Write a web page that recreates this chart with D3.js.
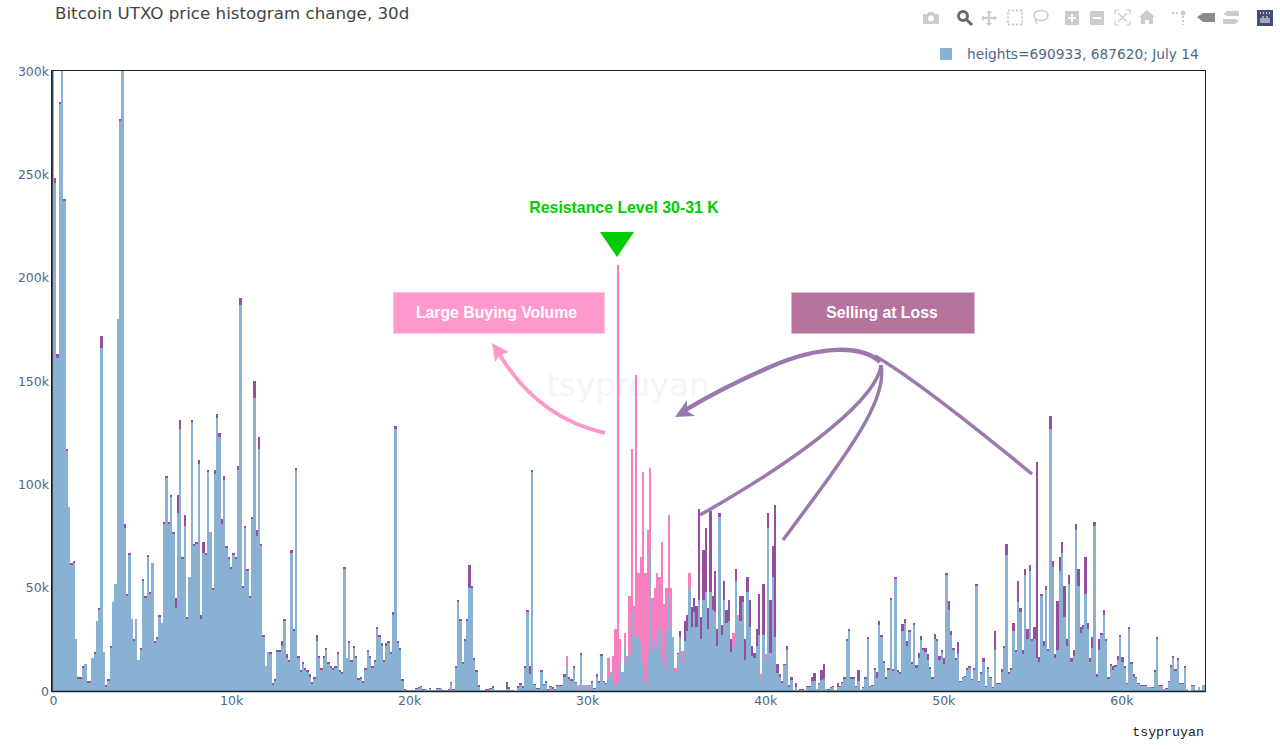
<!DOCTYPE html>
<html>
<head>
<meta charset="utf-8">
<title>Bitcoin UTXO price histogram change, 30d</title>
<script src="https://cdn.jsdelivr.net/npm/d3@7"></script>
<style>
  html, body { margin: 0; padding: 0; background: #fff; overflow: hidden; }
  text { font-family: "DejaVu Sans", sans-serif; }
</style>
</head>
<body>
<svg id="chart" width="1280" height="749"></svg>
<script>
// Height of every price bin, in thousands of BTC (one row = 10 bins)
const barTop = [
  320,248,163,285,320,238,117,89,62,63,
  25,7,7,12,13,5,5,16,19,34,
  40,172,19,3,6,22,43,52,180,277,
  320,81,47,67,35,25,35,15,21,54,
  46,66,48,62,24,26,37,33,82,104,
  82,95,77,45,95,131,65,85,36,55,
  131,71,72,112,37,72,67,107,77,50,
  107,134,125,83,104,70,65,60,67,65,
  109,190,51,80,59,46,84,150,78,123,
  71,27,12,19,19,4,6,20,20,24,
  35,18,15,68,30,108,17,10,14,11,
  10,8,4.5,7,27,17,11,17,21,14,
  12,11,12,19,10,9,60,16,24,15,
  22,17,6.5,7,5,11,20,17,12,15,
  31,27,23,15,23,24,19,38,128,24,
  21,6,1,.5,.3,.3,.6,1.3,2,2.4,
  1,1,.4,1.3,.4,.4,1.3,1.3,1,.6,
  .6,.8,4.5,1,12,44,35,14,25,35,
  61,51,16,10,3,.3,.3,1,1,1.3,
  2.4,.3,.3,.3,.3,.5,4.5,1.7,.3,.3,
  .1,2.4,4,2.4,12,39,12,107,3.4,1.3,
  1.3,10,3.4,5,1,2.4,1.7,.8,3,3,
  3,8,17,7,6,12,4.5,3,18.5,3,
  3,3,3,5,1.3,8,5,18,5,4,
  16,9,17,30,206,25,9,28,17,46,
  117,41,153,57,65,106,57,78,108,45,
  50,57,55,72,42,50,85,50,26,11,
  18.5,29,19.5,34,37,57,40.5,45,41,88,
  36,68,79,40,87,46,58,30,86,32,
  53,39,44,25,28,59,37,46,46,25,
  55,44,22,18.5,30,47,8,52,18,86,
  44,70,90,13,8,5,13,22,3,6.6,
  .3,4,.3,1,1,.3,2.4,2.4,7,8.5,
  1,3.7,10,13,1,.8,2,2.4,.3,4,
  2.4,4.3,7,25,30,7,6.6,2.4,10,.3,
  1.8,7,26,2.4,3,11,9,34,27,14.5,
  7,11,45,10.6,55,10,9,32.5,35,24,
  29.5,14,33,12.5,18.5,26.5,21,21,18,11.5,
  7,27.5,25,17,20,16,57,43.5,29,20.6,
  16,23.5,5,7,7.5,11,12,6,11,52,
  5,9,16,2.4,11.5,7,2,29,4,4,
  10.5,22,71,9,11,33,20,53,40,20,
  59,30,61,25,31,111,16.5,47,24,51,
  20.5,133,63,18,43.5,65,72,51,25,56,
  16,20,81,59,31,32,65,33,16,26,
  82,8,25,28,39,25,7,13,12,12.5,
  17,27,16.5,12,4,31,14,8,7,4,
  3,3,3,2,2,1.8,10,26,3,3,
  1,1.5,5,12.4,17,10.5,16,4,4,12,
  1,0,3,3,.5,2,.3,3
];

// Part of each bar that changed between the two heights (coloured cap)
const barCap = [
  0,2,2,1,0,1,1,0,1,1,
  0,1,1,1,0,1,1,0,1,0,
  1,6,0,1,1,1,0,0,0,1,
  0,2,1,1,0,1,0,0,1,1,
  1,1,1,0,1,1,1,0,1,1,
  1,1,1,5,9,4,1,5,1,0,
  1,1,1,2,2,5,1,1,0,1,
  2,2,2,2,2,1,1,1,1,1,
  2,3,1,1,1,1,1,8,3,6,
  1,1,0,0,1,1,1,1,1,2,
  1,2,1,1,1,1,1,1,1,1,
  1,1,1,1,3,1,1,1,1,1,
  1,1,1,1,1,1,1,0,1,1,
  1,1,1,1,1,1,1,1,1,1,
  1,1,1,1,1,1,1,1,1,1,
  1,1,.3,.2,0,0,0,.4,.6,.6,
  .3,0,0,.3,0,0,.3,.3,.2,0,
  0,.2,.5,.3,1,1,1,1,1,1,
  11,1,1,1,1,0,0,.3,.3,.4,
  .8,0,0,0,0,0,3.5,.7,0,0,
  0,.8,1,.8,1,1,4,1,.6,.3,
  .3,1,.6,1,.3,.6,.5,.2,.5,.5,
  .5,1,5,1,1,1,.5,2.5,1,.3,
  .3,2.5,.3,1,.3,1,1,1,.5,.5,
  9,2,7,27,202,12,0,6,4,28,
  79,15,127,30,42,93,53,60,40,25,
  26,36,25,57,31,22,39,19,0,2,
  .5,3,5.5,10,8,7,9.5,7,10,44,
  11,24,31,10,39,7,20,8,2,5,
  9,6,10,6,6,6,2,12,3,10,
  7,13,5,2.5,8,20,2,25,2,7,
  25.5,15,64,4.5,1,1,.5,2,1,1.3,
  0,2,0,.3,.3,0,.5,.5,2,3.5,
  .2,.5,4.5,7,.2,.2,.5,.5,0,2,
  .5,.5,1,1,1,1,1,.5,5,0,
  .5,1,1,.5,.5,1,2.5,2,1,1,
  1,1,1,1,1,1,1,3.5,2,2,
  1,1,1,1.5,2.5,2,1,2,3,1,
  1,2.5,1,2,1,3,1,4.5,2,1,
  1,5.5,.5,.5,.5,1,1,.5,1,1,
  .5,1,2,.4,1,.5,.4,9,.5,.5,
  1.5,1,5,1,1,4,1,10,2,2,
  3,5,3,1,6,95,2.5,1,2,2,
  1,6,3,2,23.5,7,5,15,3,4,
  2,3,3,8,3,2,18,3,2,5,
  2,1,5,1,2,1,1,1,2,1,
  2,1,2.5,1,.5,1,1,1,.5,.5,
  .5,.5,.5,.3,.3,.3,1,1,.5,.5,
  .2,.3,.5,1,1,1,1,.5,.5,1,
  .2,0,.5,.5,0,.3,0,0
];

// Bins where the cap is a gain (pink) instead of a loss (purple)
const gainBins = [
  222,227,231,240,241,242,243,244,245,247,248,249,250,251,252,253,254,255,
  256,257,258,259,260,261,262,263,264,265,266,267,268,269,272,275,294,296,306,308
];

const xTicks = [0, 10000, 20000, 30000, 40000, 50000, 60000];
const xTickLabels = ['0', '10k', '20k', '30k', '40k', '50k', '60k'];
const yTicks = [0, 50, 100, 150, 200, 250, 300];
const yTickLabels = ['0', '50k', '100k', '150k', '200k', '250k', '300k'];
const binSize = 130;

const blue = '#89b1d4', purple = '#964f9e', pink = '#f77fbe';
const axisText = '#506784';

const svg = d3.select('#chart');
const margin = { top: 71, right: 1205, bottom: 691, left: 52 };

// Scales
const x = d3.scaleLinear().domain([-56, 64700]).range([margin.left, margin.right]);
const y = d3.scaleLinear().domain([0, 300]).range([margin.bottom, margin.top]);

svg.append('defs').append('clipPath').attr('id', 'plot-clip')
  .append('rect')
  .attr('x', margin.left)
  .attr('y', margin.top)
  .attr('width', margin.right - margin.left)
  .attr('height', margin.bottom - margin.top);

// Watermark sits behind the bars
svg.append('text')
  .attr('x', 628)
  .attr('y', 396)
  .attr('text-anchor', 'middle')
  .attr('font-size', 32.5)
  .attr('fill', '#f5f5f5')
  .text('tsypruyan');

// Bars: blue body plus coloured cap, snapped to whole pixels like the original
const bins = barTop.map((top, i) => ({
  i,
  top,
  base: top - barCap[i],
  x0: Math.round(x(-65 + i * binSize)),
  x1: Math.round(x(-65 + (i + 1) * binSize))
}));

const bars = svg.append('g').attr('clip-path', 'url(#plot-clip)').attr('shape-rendering', 'crispEdges');

bars.selectAll('.cap')
  .data(bins.filter(d => d.top > d.base))
  .enter()
  .append('rect')
  .attr('class', 'cap')
  .attr('x', d => d.x0)
  .attr('width', d => d.x1 - d.x0)
  .attr('y', d => y(d.top))
  .attr('height', d => y(d.base) - y(d.top))
  .attr('fill', d => gainBins.includes(d.i) ? pink : purple);

bars.selectAll('.body')
  .data(bins)
  .enter()
  .append('rect')
  .attr('class', 'body')
  .attr('x', d => d.x0)
  .attr('width', d => d.x1 - d.x0)
  .attr('y', d => y(d.base))
  .attr('height', d => y(0) - y(d.base))
  .attr('fill', blue);

// Axes
const xAxis = svg.append('g')
  .attr('transform', `translate(0, ${margin.bottom})`)
  .call(d3.axisBottom(x).tickValues(xTicks).tickSize(0).tickPadding(5)
    .tickFormat((d, i) => xTickLabels[i]));

const yAxis = svg.append('g')
  .attr('transform', `translate(${margin.left}, 0)`)
  .call(d3.axisLeft(y).tickValues(yTicks).tickSize(0).tickPadding(3)
    .tickFormat((d, i) => yTickLabels[i]));

[xAxis, yAxis].forEach(axis => {
  axis.select('.domain').remove();
  axis.selectAll('text')
    .attr('fill', axisText)
    .style('font-family', '"DejaVu Sans", sans-serif')
    .style('font-size', '12.5px');
});

// Plot frame
svg.append('rect')
  .attr('x', margin.left - 0.5)
  .attr('y', margin.top - 0.5)
  .attr('width', margin.right - margin.left + 1)
  .attr('height', margin.bottom - margin.top + 1)
  .attr('fill', 'none')
  .attr('stroke', '#222')
  .attr('stroke-width', 1)
  .attr('shape-rendering', 'crispEdges');

svg.append('line')
  .attr('x1', margin.left).attr('x2', margin.left)
  .attr('y1', margin.top).attr('y2', margin.bottom + 1)
  .attr('stroke', '#222').attr('stroke-width', 1.5);
svg.append('line')
  .attr('x1', margin.left).attr('x2', margin.right)
  .attr('y1', margin.bottom + 0.5).attr('y2', margin.bottom + 0.5)
  .attr('stroke', '#222').attr('stroke-width', 1.5);

// Title, legend, credit
svg.append('text')
  .attr('x', 55)
  .attr('y', 19)
  .attr('font-size', 16.7)
  .attr('fill', '#444')
  .text('Bitcoin UTXO price histogram change, 30d');

svg.append('rect')
  .attr('x', 940).attr('y', 48).attr('width', 12).attr('height', 12)
  .attr('fill', blue);

svg.append('text')
  .attr('x', 967)
  .attr('y', 59)
  .attr('font-size', 13.75)
  .attr('fill', axisText)
  .text('heights=690933, 687620; July 14');

svg.append('text')
  .attr('x', 1204)
  .attr('y', 736)
  .attr('text-anchor', 'end')
  .attr('font-size', 13.3)
  .style('font-family', '"Liberation Mono", monospace')
  .attr('fill', '#222')
  .text('tsypruyan');

// Annotations
const boldFont = '"Liberation Sans", Arial, sans-serif';

svg.append('text')
  .attr('x', 624)
  .attr('y', 213)
  .attr('text-anchor', 'middle')
  .attr('font-size', 15.85)
  .attr('font-weight', 'bold')
  .style('font-family', boldFont)
  .attr('fill', '#00cc00')
  .text('Resistance Level 30-31 K');

svg.append('path')
  .attr('d', 'M600,232 L634,232 L617,257 Z')
  .attr('fill', '#00cc00');

const boxes = [
  { x: 393, w: 211, mid: 496.5, fill: '#ff99cc', stroke: '#ffc2e0', label: 'Large Buying Volume' },
  { x: 791, w: 183, mid: 882, fill: '#b5739d', stroke: '#d9b9ce', label: 'Selling at Loss' }
];

boxes.forEach(b => {
  svg.append('rect')
    .attr('x', b.x + 0.5).attr('y', 292.5).attr('width', b.w).attr('height', 41)
    .attr('fill', b.fill).attr('stroke', b.stroke);
  svg.append('text')
    .attr('x', b.mid)
    .attr('y', 318)
    .attr('text-anchor', 'middle')
    .attr('font-size', 15.8)
    .attr('font-weight', 'bold')
    .style('font-family', boldFont)
    .attr('fill', '#fff')
    .text(b.label);
});

const arrowPink = '#ff99cc', arrowPurple = '#9b78ad';

svg.append('path')
  .attr('d', 'M605,433 Q535,417 497,350')
  .attr('fill', 'none').attr('stroke', arrowPink).attr('stroke-width', 4);
svg.append('path')
  .attr('d', 'M492,343 L509,352 L500,355 L495,362 Z')
  .attr('fill', arrowPink);

svg.append('path')
  .attr('d', 'M880,362 C862,345 820,345 770,367 C740,380 710,395 682,412')
  .attr('fill', 'none').attr('stroke', arrowPurple).attr('stroke-width', 4.5);
svg.append('path')
  .attr('d', 'M675,417 L687,400 L687,411 L695,416 Z')
  .attr('fill', arrowPurple);

const sellingCurves = [
  'M881,365 C878,395 815,450 700,515',
  'M881,365 C888,400 850,450 783,540',
  'M875,356 C900,370 960,415 1032,474'
];

svg.selectAll('.selling')
  .data(sellingCurves)
  .enter()
  .append('path')
  .attr('class', 'selling')
  .attr('d', d => d)
  .attr('fill', 'none')
  .attr('stroke', arrowPurple)
  .attr('stroke-width', 3.5);

// Modebar, greyed-out icons along the top right
const bar = svg.append('g').attr('fill', '#cccccc').attr('stroke', 'none');
const iconGrey = '#cccccc';

// camera
bar.append('path').attr('d', 'M923,14 h4 l2,-2 h4 l2,2 h4 v10 h-16 Z');
bar.append('circle').attr('cx', 931).attr('cy', 18.5).attr('r', 3).attr('fill', '#fff');
// zoom (active)
svg.append('circle').attr('cx', 963).attr('cy', 16).attr('r', 4.5)
  .attr('fill', 'none').attr('stroke', '#6b6b6b').attr('stroke-width', 3);
svg.append('line').attr('x1', 966).attr('y1', 19).attr('x2', 972).attr('y2', 25)
  .attr('stroke', '#6b6b6b').attr('stroke-width', 3);
// pan
bar.append('path').attr('d', 'M989,10 l3,3 h-2 v4 h4 v-2 l3,3 l-3,3 v-2 h-4 v4 h2 l-3,3 l-3,-3 h2 v-4 h-4 v2 l-3,-3 l3,-3 v2 h4 v-4 h-2 Z');
// box select
svg.append('rect').attr('x', 1008).attr('y', 10.5).attr('width', 14).attr('height', 14)
  .attr('fill', 'none').attr('stroke', iconGrey).attr('stroke-width', 2).attr('stroke-dasharray', '2 2');
// lasso
svg.append('ellipse').attr('cx', 1041).attr('cy', 15.5).attr('rx', 7).attr('ry', 5)
  .attr('fill', 'none').attr('stroke', iconGrey).attr('stroke-width', 1.5);
svg.append('path').attr('d', 'M1036,19 q-1,3 1,5').attr('fill', 'none').attr('stroke', iconGrey).attr('stroke-width', 1.5);
// zoom in / out
bar.append('path').attr('d', 'M1065,11 h14 v14 h-14 Z M1071,14 v3 h-3 v2 h3 v3 h2 v-3 h3 v-2 h-3 v-3 Z').attr('fill-rule', 'evenodd');
bar.append('path').attr('d', 'M1090,11 h14 v14 h-14 Z M1093,17 v2 h8 v-2 Z').attr('fill-rule', 'evenodd');
// autoscale
svg.append('path').attr('d', 'M1115,14 v-4 h4 M1126,10 h4 v4 M1130,21 v4 h-4 M1119,25 h-4 v-4 M1118,13 L1127,22 M1127,13 L1118,22')
  .attr('fill', 'none').attr('stroke', iconGrey).attr('stroke-width', 1.2);
// home
bar.append('path').attr('d', 'M1147,10 l8,7 h-2 v7 h-4 v-4 h-4 v4 h-4 v-7 h-2 Z');
// spikes
bar.append('circle').attr('cx', 1183).attr('cy', 13).attr('r', 2.5);
svg.append('path').attr('d', 'M1172,13 h8 M1183,16 v9')
  .attr('fill', 'none').attr('stroke', iconGrey).attr('stroke-width', 2).attr('stroke-dasharray', '2 2');
// hover closest / compare
bar.append('path').attr('d', 'M1197,17 l6,-4 h12 v9 h-12 Z').attr('fill', '#8a8a8a');
bar.append('path').attr('d', 'M1227,11 h12 v5 h-12 l-4,-2 Z M1223,19 h12 l4,2 l-4,3 h-12 Z');
// plotly logo
svg.append('rect').attr('x', 1257).attr('y', 10).attr('width', 16).attr('height', 16).attr('fill', '#3f4f75');
svg.append('path').attr('d', 'M1261,18 v5 M1265,18 v5 M1269,18 v5 M1263,16 v7 M1267,16 v7')
  .attr('stroke', '#fff').attr('stroke-width', 1);
svg.append('path').attr('d', 'M1260,13 h1 M1263,13 h1 M1266,13 h1 M1269,13 h1')
  .attr('stroke', '#fff').attr('stroke-width', 1.5);
</script>
</body>
</html>
